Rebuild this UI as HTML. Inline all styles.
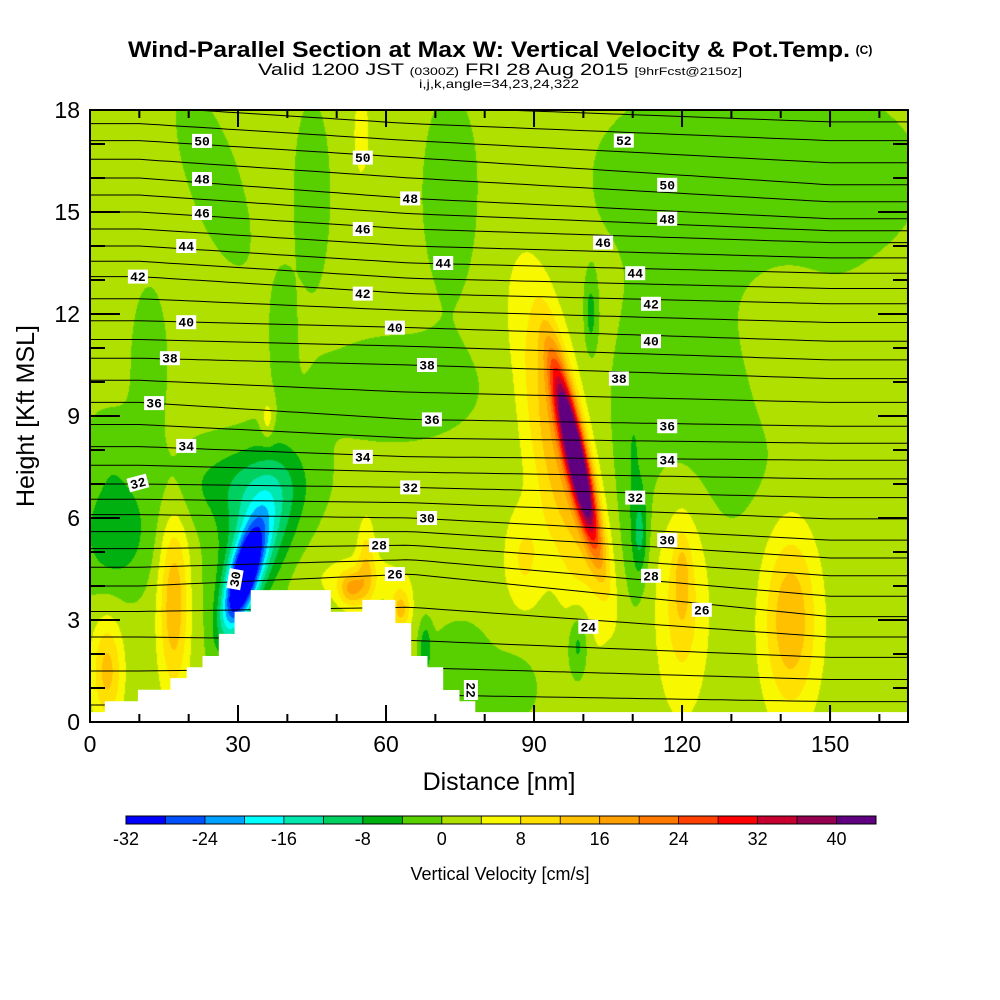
<!DOCTYPE html>
<html><head><meta charset="utf-8">
<style>
html,body{margin:0;padding:0;background:#fff;}
#wrap{position:relative;width:1000px;height:1000px;overflow:hidden;font-family:"Liberation Sans",sans-serif;}
#field{position:absolute;left:90px;top:110px;}
#ov{position:absolute;left:0;top:0;}
</style></head>
<body>
<div id="wrap">
<canvas id="field" width="818" height="612"></canvas>
<svg id="ov" width="1000" height="1000">
  <defs><clipPath id="pc"><rect x="90" y="110" width="818" height="612"/></clipPath></defs>
  <g id="isen" clip-path="url(#pc)"></g>
  <g id="terrain"></g>
  <g id="labels"></g>
  <rect x="90" y="110" width="818" height="612" fill="none" stroke="#000" stroke-width="2"/>
  <g id="ticks"></g>
  <text x="489" y="57" text-anchor="middle" font-size="22" font-weight="bold" textLength="722" lengthAdjust="spacingAndGlyphs">Wind-Parallel Section at Max W: Vertical Velocity &amp; Pot.Temp.</text>
  <text x="864" y="54" text-anchor="middle" font-size="12" font-weight="bold">(C)</text>
  <text x="500" y="75" text-anchor="middle" font-size="17" textLength="484" lengthAdjust="spacingAndGlyphs">Valid 1200 JST <tspan font-size="11">(0300Z)</tspan> FRI 28 Aug 2015 <tspan font-size="11">[9hrFcst@2150z]</tspan></text>
  <text x="499" y="88" text-anchor="middle" font-size="12" textLength="160" lengthAdjust="spacingAndGlyphs">i,j,k,angle=34,23,24,322</text>
  <text x="499" y="790" text-anchor="middle" font-size="25">Distance [nm]</text>
  <text transform="translate(34,416) rotate(-90)" text-anchor="middle" font-size="25">Height [Kft MSL]</text>
  <g id="cbar"></g>
  <text x="500" y="880" text-anchor="middle" font-size="18">Vertical Velocity [cm/s]</text>
</svg>
</div>
<script>
// ---- vertical velocity field data (blobs: centre nm, centre kft, width nm, width kft, amplitude cm/s, tilt nm/kft)
const baseW = 1.5;
const blobX =   [12, 4, 25, 45, 73, 62, 39, 135, 128, 140, 110, 75, 86, 68, 101.5, 111.5, 99, 5, 30, 34, 31, 17, 3.5, 36, 55, 55, 53, 56, 63, 98.5, 95, 88, 120, 120, 142, 95];
const blobZ =   [10.5, 8, 16, 15.5, 15.5, 9.8, 11.5, 16, 9, 10.5, 7, 1.5, 1, 2.2, 12, 5.5, 2.3, 5.5, 7, 5.5, 4.2, 3.5, 1.5, 8.9, 17.3, 4.2, 3.9, 4.7, 3.3, 7.8, 8, 4.8, 3.5, 4.3, 3, 16];
const blobSX =  [4, 6, 6, 4, 6, 18, 2.5, 32, 22, 8, 3, 7, 5, 1.2, 1.2, 1.5, 2, 8, 14, 7, 3, 3, 3, 1.3, 1.5, 10, 2.5, 1.8, 2, 2.2, 6, 4, 5, 1.5, 5.5, 4];
const blobSZ =  [2.5, 1.3, 2.8, 3, 3.2, 1.7, 1.8, 3, 3.2, 2.5, 4, 1.5, 1, 0.7, 1, 1.2, 1, 1.7, 1.3, 2.2, 1.5, 2.6, 1.5, 0.6, 1.2, 0.7, 0.5, 1.3, 0.6, 2.6, 4.5, 1.5, 3, 1.2, 2.7, 2.5];
const blobAmp = [-3.5, -3.5, -3.5, -3.5, -3.5, -3.5, -3.5, -4.5, -4, 4, -4, -4, -3.5, -8, -7, -8, -8, -8, -7, -14, -38, 14, 12, 6, 6, 5, 12, 8, 12, 50, 14, 7, 9, 6, 14, 1];
const blobTilt =[0, 0, -2, 0, 0, 0, 0, 0, 0, 0, 0, 0, 0, 0, 0, 0, 0, 0, 0, 1.5, 1.8, 0, 0, 0, 0, 0, 0, 0, 0, -1.5, -1.2, 0, 0, 0, 0, 0];
const binColors = ["#0000ff","#0050ff","#00a0ff","#00ffff","#00e8b0","#00d060","#00b010","#58d000","#b0e000","#f8f800","#ffe000","#ffc000","#ffa000","#ff7800","#ff4000","#ff0000","#c80030","#960050","#600080"];
const cbarTicks = [-32,-24,-16,-8,0,8,16,24,32,40];
// ---- potential temperature (theta) profiles: height (kft) of even theta levels 22..54
const thetaEven = [22,24,26,28,30,32,34,36,38,40,42,44,46,48,50,52,54];
const profX = [10, 65, 150];
const zLeft  = [0.5,2.5,4.0,5.1,6.1,7.0,8.1,9.4,10.7,11.8,13.1,14.0,15.0,16.0,17.1,18.1,19.0];
const zMid   = [0.8,2.4,4.35,5.2,6.0,6.9,7.8,8.9,10.5,11.6,12.6,13.5,14.5,15.4,16.6,17.6,18.6];
const zRight = [0.6,1.9,3.1,4.3,5.35,6.6,7.7,8.7,10.1,11.2,12.3,13.2,14.1,14.8,15.8,17.1,18.2];
const labTheta = [50,48,46,44,42,40,38,36,34,32,50,48,46,44,42,40,38,36,34,32,30,28,26,30,22,52,50,48,46,44,42,40,38,36,34,32,30,28,26,24];
const labX = [22.7,22.7,22.7,19.5,9.7,19.5,16.2,13,19.5,9.7,55.3,64.9,55.3,71.6,55.3,61.8,68.3,69.3,55.3,64.9,68.3,58.6,61.8,29.4,77.2,108.2,117,117,104,110.5,113.7,113.7,107.2,117,117,110.5,117,113.7,124,101];
const labZ = [17.09,15.97,14.97,14.0,13.1,11.76,10.7,9.38,8.12,7.03,16.6,15.4,14.5,13.5,12.6,11.6,10.5,8.9,7.8,6.9,6.0,5.2,4.35,4.2,0.94,17.1,15.8,14.8,14.1,13.2,12.3,11.2,10.1,8.7,7.7,6.6,5.35,4.3,3.3,2.8];
const labRot = [0,0,0,0,0,0,0,0,0,-15,0,0,0,0,0,0,0,0,0,0,0,0,0,-80,90,0,0,0,0,0,0,0,0,0,0,0,0,0,0,0];
// ---- terrain: step edges (nm) and heights (kft)
const terrEdge = [0,3.0,9.7,16.3,19.6,22.8,26.1,29.3,32.6,48.8,55.2,61.9,65.1,68.4,71.6,74.9,78.1,166];
const terrZ = [0.29,0.61,0.95,1.29,1.61,1.94,2.59,3.24,3.88,3.24,3.59,2.91,1.94,1.61,0.94,0.61,0.29];
const xTicksMajor = [0,30,60,90,120,150];
const yTicksMajor = [0,3,6,9,12,15,18];

const NS = "http://www.w3.org/2000/svg";
const PX0 = 90, PXS = 818/165.8, PY0 = 722, PYS = 34;
function sx(nm){ return PX0 + nm*PXS; }
function sy(z){ return PY0 - z*PYS; }
function mk(tag, attrs, parent){ const e=document.createElementNS(NS,tag); for(const k in attrs) e.setAttribute(k,attrs[k]); parent.appendChild(e); return e; }

function wAt(x,z){
  let v = baseW;
  for(let i=0;i<blobX.length;i++){
    const dx = (x - blobX[i] - blobTilt[i]*(z-blobZ[i]))/blobSX[i];
    const dz = (z - blobZ[i])/blobSZ[i];
    const e = dx*dx+dz*dz;
    if(e<12) v += blobAmp[i]*Math.exp(-e);
  }
  return v;
}
function hexRGB(h){ return [parseInt(h.substr(1,2),16),parseInt(h.substr(3,2),16),parseInt(h.substr(5,2),16)]; }
const rgbs = binColors.map(hexRGB);
(function(){
  const c = document.getElementById('field'), ctx = c.getContext('2d');
  const W=c.width,H=c.height, img=ctx.createImageData(W,H);
  for(let py=0;py<H;py++){
    const z = (H-py-0.5)/PYS;
    for(let px=0;px<W;px++){
      const x = (px+0.5)/PXS;
      let b = Math.floor((wAt(x,z)+32)/4);
      if(b<0)b=0; if(b>18)b=18;
      const col=rgbs[b], o=(py*W+px)*4;
      img.data[o]=col[0];img.data[o+1]=col[1];img.data[o+2]=col[2];img.data[o+3]=255;
    }
  }
  ctx.putImageData(img,0,0);
})();

function profZ(arr, th){
  const f = (th-22)/2; const i=Math.max(0,Math.min(arr.length-2,Math.floor(f))); const t=f-i;
  return arr[i]*(1-t)+arr[i+1]*t;
}
function thetaZ(x, th){
  const a=profZ(zLeft,th), b=profZ(zMid,th), c=profZ(zRight,th);
  if(x<=profX[0]) return a;
  if(x<=profX[1]){ const t=(x-profX[0])/(profX[1]-profX[0]); return a*(1-t)+b*t; }
  if(x<=profX[2]){ const t=(x-profX[1])/(profX[2]-profX[1]); return b*(1-t)+c*t; }
  return c;
}
(function(){
  const g=document.getElementById('isen');
  for(let th=22; th<=54; th++){
    let d="";
    for(let x=0;x<=166;x+=2){
      const z = thetaZ(x,th);
      d += (x===0?"M":"L")+sx(x).toFixed(1)+","+sy(z).toFixed(1);
    }
    const p=mk('path',{d:d,fill:'none',stroke:'#000','stroke-width':1},g);
    
    
  }
})();

(function(){
  const g=document.getElementById('terrain');
  let d="M"+sx(0)+","+sy(0);
  for(let i=0;i<terrZ.length;i++){
    d+="L"+sx(terrEdge[i]).toFixed(1)+","+sy(terrZ[i]).toFixed(1)+"L"+sx(terrEdge[i+1]).toFixed(1)+","+sy(terrZ[i]).toFixed(1);
  }
  d+="L"+sx(166)+","+sy(0)+"Z";
  const p=mk('path',{d:d,fill:'#fff',stroke:'none'},g);
  
  
})();

(function(){
  const g=document.getElementById('labels');
  for(let i=0;i<labTheta.length;i++){
    const cx=sx(labX[i]), cy=sy(labZ[i]);
    const gg=mk('g',{transform:'translate('+cx.toFixed(1)+','+cy.toFixed(1)+') rotate('+labRot[i]+')'},g);
    
    
    mk('rect',{x:-10,y:-7,width:20,height:14,fill:'#fff'},gg);
    const t=mk('text',{x:0,y:4.5,'text-anchor':'middle','font-size':13,'font-family':'"Liberation Mono",monospace','font-weight':'bold'},gg);
    t.textContent=labTheta[i];
  }
})();

(function(){
  const g=document.getElementById('ticks');
  for(let x=0;x<=160;x+=10){
    const big = x%30===0, X=sx(x);
    mk('line',{x1:X,x2:X,y1:722,y2:722-(big?17:8),stroke:'#000','stroke-width':2},g);
    mk('line',{x1:X,x2:X,y1:110,y2:110+(big?17:8),stroke:'#000','stroke-width':2},g);
  }
  for(let z=0;z<=18;z++){
    const big=z%3===0, Y=sy(z);
    mk('line',{x1:90,x2:90+(big?30:15),y1:Y,y2:Y,stroke:'#000','stroke-width':2},g);
    mk('line',{x1:908,x2:908-(big?30:15),y1:Y,y2:Y,stroke:'#000','stroke-width':2},g);
  }
  xTicksMajor.forEach(v=>{
    const t=mk('text',{x:sx(v),y:752,'text-anchor':'middle','font-size':23},g);
    t.textContent=v;
    
    
  });
  yTicksMajor.forEach(v=>{
    const t=mk('text',{x:80,y:sy(v)+8,'text-anchor':'end','font-size':23},g);
    t.textContent=v;
    
    
  });
})();

(function(){
  const g=document.getElementById('cbar');
  const x0=126, w=750/19;
  for(let i=0;i<19;i++){
    const r=mk('rect',{x:(x0+i*w).toFixed(2),y:816,width:(w+0.3).toFixed(2),height:8,fill:binColors[i]},g);
    
    
  }
  mk('rect',{x:x0,y:816,width:750,height:8,fill:'none',stroke:'#000','stroke-width':1},g);
  for(let i=1;i<19;i++) mk('line',{x1:x0+i*w,x2:x0+i*w,y1:816,y2:824,stroke:'#000','stroke-width':0.8},g);
  cbarTicks.forEach(v=>{
    const t=mk('text',{x:(x0+(v+32)/4*w).toFixed(1),y:845,'text-anchor':'middle','font-size':18},g);
    t.textContent=v;
    
    
  });
})();
</script>
</body></html>
